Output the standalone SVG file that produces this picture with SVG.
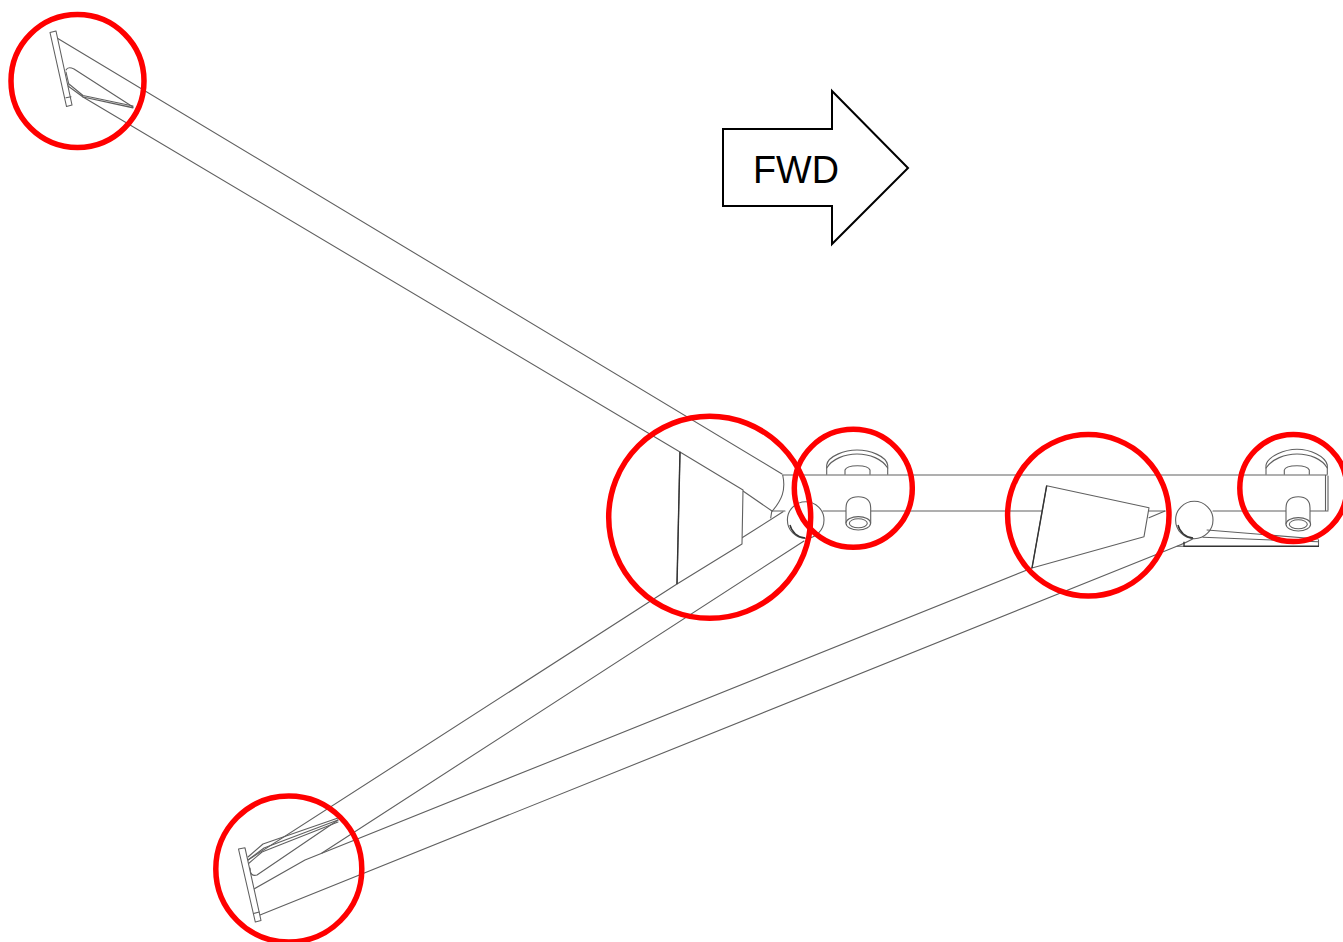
<svg xmlns="http://www.w3.org/2000/svg" width="1343" height="942" viewBox="0 0 1343 942">
<style>
.l{fill:none;stroke:#606060;stroke-width:1.1;stroke-linejoin:round;stroke-linecap:round}
.f{fill:#fff;stroke:#606060;stroke-width:1.1;stroke-linejoin:round}
.d{fill:none;stroke:#333;stroke-width:1.4}
.r{fill:none;stroke:#f00;stroke-width:5.500}
</style>
<rect width="1343" height="942" fill="#fff"/>
<g id="beam">
<path class="l" d="M783 475H1327M772 511H785M823 511H1165M1213 511H1328M1325.500 475V511M1328 476V510"/>
<path class="l" d="M782.700 475C786 490 782 500 771.700 511.700L770.700 518"/>
</g>
<g id="connectors">
<path class="l" d="M57 38L782 474"/>
<path class="l" d="M66 70Q68 66 74 69L133 107"/>
<path class="l" d="M83 97L680 452"/>
<path class="l" d="M743 491L772 511M741.700 538L783 511.700M804 541L322 853"/>
<path class="l" d="M248 860L677 584"/>
<path class="l" d="M250 868Q250 877 257 875L338 820"/>
<path class="l" d="M1032 568L305 860L254 889"/>
<path class="l" d="M260 915L1175 547Q1188 542 1196 537"/>
<path class="l" d="M1149 517.700L1165 511"/>
<path class="l" d="M69 84L83 95.500L133 106M68 86L83 97L133 107.500M66 72L69 85M83 97L133 108"/>
<path class="l" d="M248 857L263 844L338 818M248 860L264 848L338 820M248 864L262 852L338 822"/>
</g>
<g id="plate-top">
<path class="f" d="M50 32.500L56 31L72 105L66.500 106.500Z"/>
<path class="l" d="M66 97.800L71 96.800"/>
</g>
<g id="plate-bottom">
<path class="f" d="M238.500 849L245 847.800L261 920.500L255.300 922Z"/>
<path class="l" d="M253.500 913.500L259.300 912"/>
</g>
<g id="cone-left">
<path class="f" d="M680 452L743 490L742 544L677 584Z"/>
<path class="d" d="M680 452L677 584"/>
</g>
<g id="cone-right">
<path class="f" d="M1046.700 485.700L1149 507.700L1144 536.700L1032 568Z"/>
<path class="d" d="M1046.700 485.700L1032 568"/>
</g>
<g id="ball-left">
<circle class="f" cx="805.700" cy="520" r="18.300"/>
<path class="d" d="M790 525A17 17 0 0 0 805 538"/>
</g>
<g id="ball-right">
<circle class="f" cx="1194.300" cy="520" r="18.700"/>
<path class="d" d="M1178 525A17 17 0 0 0 1193 538"/>
</g>
<g id="fitting-left">
<path class="l" d="M826.700 474.300V465C828 456 845 450 857 450C870 450 886 456 887.700 465V474.300"/>
<path class="l" d="M826.700 468C832 459 845 454 857 454C870 454 882 459 887.700 468"/>
<path class="l" d="M845 474.300V470C846 467 852 465.700 857.500 465.700C863 465.700 869 467 870 470V474.300"/>
<path class="f" d="M846 508C846 500 850 496.700 858.300 496.700C866 496.700 870.700 500 870.700 508V523H846Z"/>
<ellipse class="f" cx="858.300" cy="523.300" rx="12.300" ry="6.700"/>
<ellipse class="l" cx="858.300" cy="523.300" rx="9" ry="4.500"/>
</g>
<g id="fitting-right">
<path class="l" d="M1266 474.300V465C1268 456 1285 449.300 1297 449.300C1310 449.300 1325 456 1327.300 465V474.300"/>
<path class="l" d="M1266 468C1272 459 1285 454 1297 454C1310 454 1322 459 1327.300 468"/>
<path class="l" d="M1284.300 474.300V470C1285 467 1291 465.700 1297 465.700C1303 465.700 1308 467 1309.300 470V474.300"/>
<path class="f" d="M1286 508C1286 500 1290 496.700 1298.300 496.700C1306 496.700 1310 500 1310 508V524H1286Z"/>
<ellipse class="f" cx="1298.300" cy="524.300" rx="12.300" ry="6.700"/>
<ellipse class="l" cx="1298.300" cy="524.300" rx="9" ry="4.500"/>
</g>
<g id="bracket">
<path class="l" d="M1207 530L1318 539M1203 537.300L1318 541.700M1318.500 540V546"/>
<path class="l" d="M1177 546.300H1184"/>
<path class="d" d="M1184 541.700V546.300H1319"/>
</g>
<g id="fwd-arrow">
<path d="M723 129H832V91L908 168L832 244V206H723Z" fill="#fff" stroke="#000" stroke-width="2"/>
<text x="753" y="182.500" font-family="Liberation Sans, Arial, sans-serif" font-size="38.500" textLength="86" lengthAdjust="spacingAndGlyphs" fill="#000">FWD</text>
</g>
<g id="callouts">
<circle class="r" cx="77.500" cy="81" r="66.500"/>
<circle class="r" cx="709.700" cy="517.300" r="101"/>
<circle class="r" cx="853.300" cy="488.300" r="59"/>
<circle class="r" cx="1088.300" cy="515.300" r="80.700"/>
<circle class="r" cx="1293.300" cy="488" r="53.500"/>
<circle class="r" cx="288.800" cy="869" r="73"/>
</g>
</svg>
